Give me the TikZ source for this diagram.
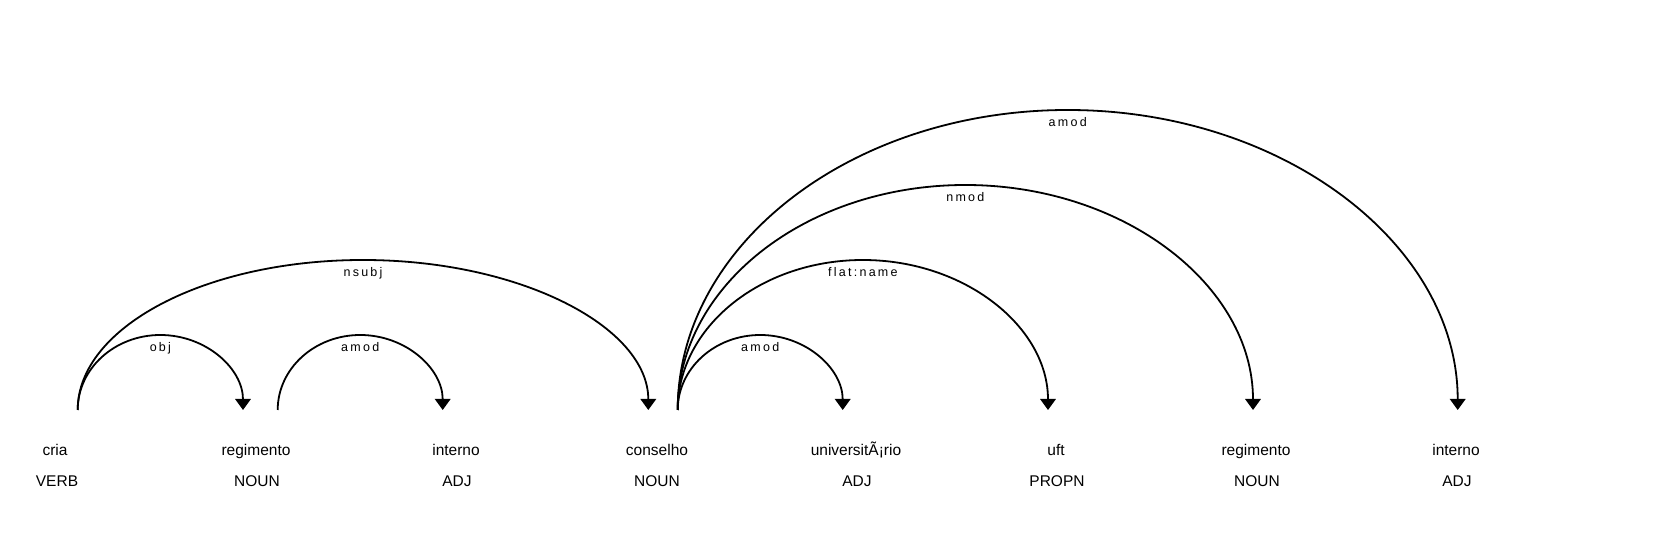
\documentclass[tikz,border=0pt]{standalone}
\usepackage{fontspec}
\setmainfont{Liberation Sans}
\newfontfamily\deplabelfont[LetterSpace=18]{Liberation Sans}
\usetikzlibrary{arrows.meta,calc}

\tikzset{
  word/.style={anchor=base, inner sep=0pt, font=\fontsize{15.5}{18}\selectfont},
  dep/.style={line width=1.8pt, -{Triangle[width=15.5pt,length=11pt]}},
  deplabel/.style={anchor=base, inner sep=0pt, font=\deplabelfont\fontsize{12.5}{14}\selectfont}
}

% arc from #1 to #2, height #3, label #4
\newcommand{\deparc}[4]{%
  \draw[dep] let \p1=(#1), \p2=(#2) in
    (\p1) arc[start angle=180, end angle=0, x radius={(\x2-\x1)/2}, y radius=#3pt]
    node[deplabel] at ({(\x1+\x2)/2},{\y1+#3pt-16.5pt}) {#4};
}

\begin{document}
\begin{tikzpicture}[x=1pt,y=1pt]
  \useasboundingbox (0,0) rectangle (1664,553);

  % words and tags
  \path
    (55,97) node[word] (w1) {cria}
    (256,97) node[word] (w2) {regimento}
    (456,97) node[word] (w3) {interno}
    (657,97) node[word] (w4) {conselho}
    (856,97) node[word] (w5) {universitÃ¡rio}
    (1056,97) node[word] (w6) {uft}
    (1256,97) node[word] (w7) {regimento}
    (1456,97) node[word] (w8) {interno}
    (57,66.5) node[word] (t1) {VERB}
    (257,66.5) node[word] (t2) {NOUN}
    (457,66.5) node[word] (t3) {ADJ}
    (657,66.5) node[word] (t4) {NOUN}
    (857,66.5) node[word] (t5) {ADJ}
    (1057,66.5) node[word] (t6) {PROPN}
    (1257,66.5) node[word] (t7) {NOUN}
    (1457,66.5) node[word] (t8) {ADJ};

  % arc ends
  \coordinate (w1-out) at (77.7,143);
  \coordinate (w2-out) at (277.7,143);
  \coordinate (w4-out) at (677.7,143);
  \coordinate (w2-in) at (243,143);
  \coordinate (w3-in) at (442.7,143);
  \coordinate (w4-in) at (648.3,143);
  \coordinate (w5-in) at (842.7,143);
  \coordinate (w6-in) at (1048,143);
  \coordinate (w7-in) at (1253,143);
  \coordinate (w8-in) at (1457.7,143);

  \deparc{w1-out}{w2-in}{75}{obj}
  \deparc{w2-out}{w3-in}{75}{amod}
  \deparc{w1-out}{w4-in}{150}{nsubj}
  \deparc{w4-out}{w5-in}{75}{amod}
  \deparc{w4-out}{w6-in}{150}{flat:name}
  \deparc{w4-out}{w7-in}{225}{nmod}
  \deparc{w4-out}{w8-in}{300}{amod}
\end{tikzpicture}
\end{document}
